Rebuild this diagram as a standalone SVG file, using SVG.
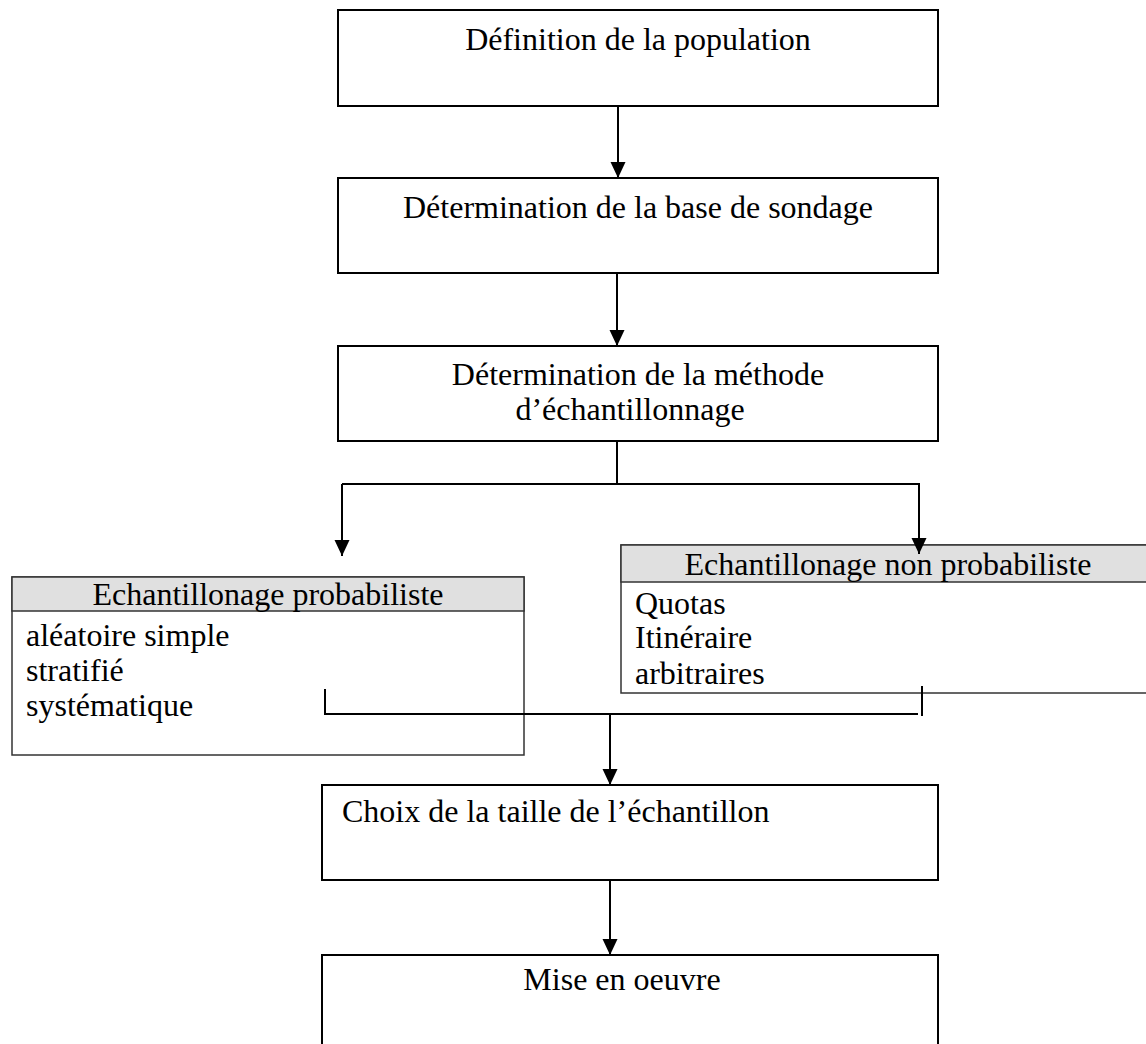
<svg xmlns="http://www.w3.org/2000/svg" width="1146" height="1044" viewBox="0 0 1146 1044">
<style>
text{font-family:"Liberation Serif","Times New Roman",serif;font-size:32px;fill:#000}
.box{fill:#fff;stroke:#000;stroke-width:2}
.tbl{fill:#fff;stroke:#333;stroke-width:1.5}
.hdr{fill:#e0e0e0;stroke:#333;stroke-width:1.5}
.c{stroke:#000;stroke-width:2;fill:none}
.mid{text-anchor:middle}
</style>
<defs>
<marker id="ah" markerUnits="userSpaceOnUse" markerWidth="16" markerHeight="16" refX="16" refY="7.5" orient="auto">
<path d="M0,0 L16,7.5 L0,15 z" fill="#000"/>
</marker>
</defs>
<rect width="1146" height="1044" fill="#fff"/>
<g id="n1">
<rect class="box" x="338" y="10" width="600" height="96"/>
<text class="mid" x="638" y="50">Définition de la population</text>
</g>
<g id="n2">
<rect class="box" x="338" y="178" width="600" height="95"/>
<text class="mid" x="638" y="218">Détermination de la base de sondage</text>
</g>
<g id="n3">
<rect class="box" x="338" y="346" width="600" height="95"/>
<text class="mid" x="638" y="385">Détermination de la méthode</text>
<text class="mid" x="630" y="420">d’échantillonnage</text>
</g>
<g id="n4">
<rect class="tbl" x="12" y="577" width="512" height="178"/>
<rect class="hdr" x="12" y="577" width="512" height="34"/>
<text class="mid" x="268" y="605">Echantillonage probabiliste</text>
<text x="26" y="646">aléatoire simple</text>
<text x="26" y="681">stratifié</text>
<text x="26" y="716">systématique</text>
</g>
<g id="n5">
<rect class="tbl" x="621" y="545" width="535" height="148"/>
<rect class="hdr" x="621" y="545" width="535" height="37"/>
<text class="mid" x="888" y="575">Echantillonage non probabiliste</text>
<text x="635" y="614">Quotas</text>
<text x="635" y="648">Itinéraire</text>
<text x="635" y="684">arbitraires</text>
</g>
<g id="n6">
<rect class="box" x="322" y="785" width="616" height="95"/>
<text x="342" y="822">Choix de la taille de l’échantillon</text>
</g>
<g id="n7">
<rect class="box" x="322" y="955" width="616" height="100"/>
<text class="mid" x="622" y="990">Mise en oeuvre</text>
</g>
<g id="connectors">
<line class="c" x1="618" y1="106" x2="618" y2="178" marker-end="url(#ah)"/>
<line class="c" x1="617" y1="273" x2="617" y2="346" marker-end="url(#ah)"/>
<line class="c" x1="617" y1="441" x2="617" y2="484"/>
<line class="c" x1="342" y1="484" x2="919" y2="484"/>
<line class="c" x1="342" y1="484" x2="342" y2="556" marker-end="url(#ah)"/>
<line class="c" x1="919" y1="483" x2="919" y2="554" marker-end="url(#ah)"/>
<polyline class="c" points="325,689 325,714 918,714"/>
<line class="c" x1="922" y1="686" x2="922" y2="716"/>
<line class="c" x1="610" y1="713" x2="610" y2="785" marker-end="url(#ah)"/>
<line class="c" x1="610" y1="880" x2="610" y2="955" marker-end="url(#ah)"/>
</g>
</svg>
